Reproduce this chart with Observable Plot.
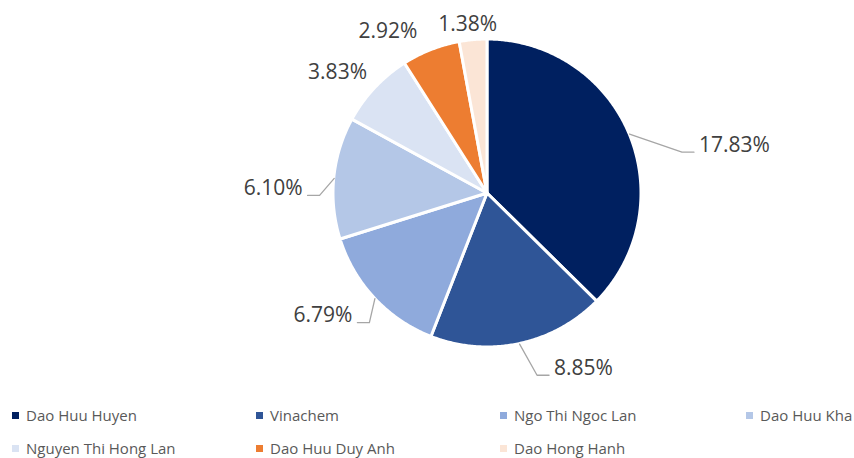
<!DOCTYPE html>
<html><head><meta charset="utf-8">
<script src="https://cdn.jsdelivr.net/npm/d3@7"></script>
<script src="https://cdn.jsdelivr.net/npm/@observablehq/plot@0.6"></script>
<style>
body{margin:0;background:#fff;font-family:"Open Sans",sans-serif;}
#wrap{position:relative;width:854px;height:458px;overflow:hidden}
#legend{position:absolute;left:0;top:0;width:854px;height:458px;pointer-events:none}
.item{position:absolute;display:flex;align-items:center;height:20px;font-size:15px;color:#595959;white-space:nowrap}
.sw{width:7px;height:7px;margin-right:7px;flex:none}
</style></head><body>
<div id="wrap"><div id="chart"></div><div id="legend"></div></div>
<script>
// ---- data ----
const names  = ["Dao Huu Huyen", "Vinachem", "Ngo Thi Ngoc Lan", "Dao Huu Kha", "Nguyen Thi Hong Lan", "Dao Huu Duy Anh", "Dao Hong Hanh"];
const values = [17.83, 8.85, 6.79, 6.10, 3.83, 2.92, 1.38];
const labels = ["17.83%", "8.85%", "6.79%", "6.10%", "3.83%", "2.92%", "1.38%"];
const colors = ["#002060", "#2F5597", "#8FAADC", "#B4C7E7", "#DAE3F3", "#ED7D31", "#FBE5D6"];

// ---- layout ----
const cx = 487, cy = 193, R = 154;           // pie centre / radius (px)
const labelDist = 1.2;                        // label anchor distance (radius units)
// manual label drags (px), like moved Excel data labels
const labelNudge = [[41, 23], [28, -6], [0, -4], [-1, 13], [-15, 5], [-32, 10], [-3, 15]];

const total = d3.sum(values);
let acc = 0;
const slices = values.map((v, i) => {
  const a0 = acc / total * 2 * Math.PI; acc += v;
  const a1 = acc / total * 2 * Math.PI;
  return {name: names[i], value: v, label: labels[i], a0, a1, mid: (a0 + a1) / 2, frac: v / total, i};
});

// arc polygons (data units, y up)
const pts = [];
for (const s of slices) {
  const n = Math.max(2, Math.ceil((s.a1 - s.a0) * 180 / Math.PI * 2));
  for (let k = 0; k <= n; k++) {
    const a = s.a0 + (s.a1 - s.a0) * k / n;
    pts.push({name: s.name, x0: 0, y0: 0, x: Math.sin(a), y: Math.cos(a)});
  }
}

// labels and leader lines
const labelData = [], leaders = [];
for (const s of slices) {
  const [ndx, ndy] = labelNudge[s.i];
  const ax = Math.sin(s.mid) * labelDist + ndx / R;       // data units
  const ay = Math.cos(s.mid) * labelDist - ndy / R;
  const hasLeader = s.frac > 0.1;
  const side = !hasLeader ? "middle" : (Math.sin(s.mid) >= 0 ? "start" : "end");
  labelData.push({text: s.label, x: ax, y: ay, side});
  if (hasLeader) {
    const dir = side === "start" ? -1 : 1;
    const ly = ay - 7 / R;
    leaders.push({name: s.name, x: Math.sin(s.mid), y: Math.cos(s.mid)});
    leaders.push({name: s.name, x: ax + dir * 17 / R, y: ly});
    leaders.push({name: s.name, x: ax + dir * 5 / R, y: ly});
  }
}

const textOpts = {x: "x", y: "y", text: "text", fontSize: 21, fill: "#404040", fontFamily: "Open Sans"};
const chart = Plot.plot({
  width: 854, height: 395, margin: 0,
  x: {domain: [-1, 1], range: [cx - R, cx + R], axis: null},
  y: {domain: [-1, 1], range: [cy + R, cy - R], axis: null},
  color: {domain: names, range: colors},
  style: {background: "white", overflow: "visible"},
  marks: [
    Plot.area(pts, {x1: "x0", y1: "y0", x2: "x", y2: "y", z: "name", fill: "name", stroke: "white", strokeWidth: 3, strokeLinejoin: "round"}),
    Plot.line(leaders, {x: "x", y: "y", z: "name", stroke: "#A6A6A6", strokeWidth: 1.3}),
    Plot.text(labelData.filter(d => d.side === "start"), {...textOpts, textAnchor: "start"}),
    Plot.text(labelData.filter(d => d.side === "end"), {...textOpts, textAnchor: "end"}),
    Plot.text(labelData.filter(d => d.side === "middle"), {...textOpts, textAnchor: "middle"})
  ]
});
document.getElementById("chart").appendChild(chart);

// legend (below the svg area)
const legendCols = [12, 256, 500, 746], legendRows = [415, 448];
const lg = document.getElementById("legend");
names.forEach((n, i) => {
  const el = document.createElement("div");
  el.className = "item";
  el.style.left = legendCols[i % 4] + "px";
  el.style.top = (legendRows[Math.floor(i / 4)] - 10) + "px";
  el.innerHTML = `<span class="sw" style="background:${colors[i]}"></span><span>${n}</span>`;
  lg.appendChild(el);
});
</script>
</body></html>
